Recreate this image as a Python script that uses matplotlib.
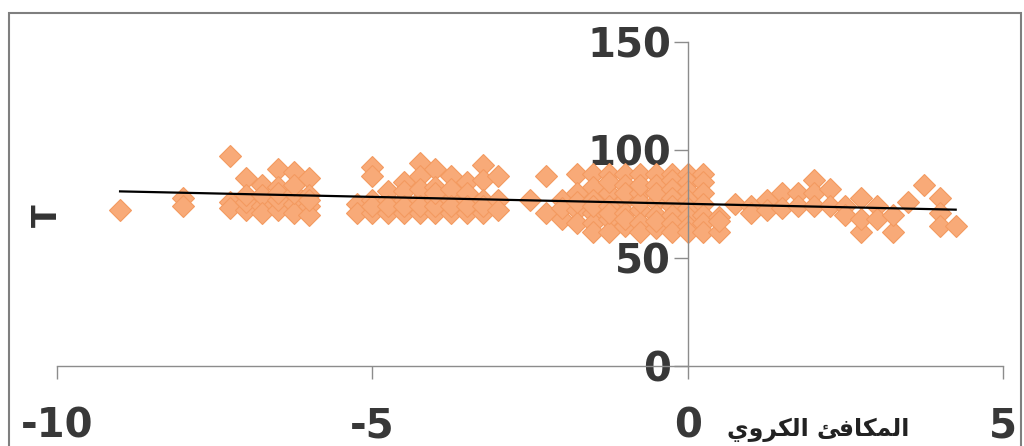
import numpy as np
import matplotlib.pyplot as plt
from matplotlib.patches import Rectangle

# spherical equivalent (dioptres) -> T values, grouped by dioptre step
sph_groups = [
    (-9.0, [72]),
    (-8.0, [78, 74]),
    (-7.25, [97, 76, 73]),
    (-7.0, [87, 72, 76, 79]),
    (-6.75, [84, 74, 79, 71]),
    (-6.5, [91, 83, 72, 77, 80]),
    (-6.25, [90, 75, 71, 80, 84]),
    (-6.0, [87, 74, 70, 79, 77]),
    (-5.25, [75, 71]),
    (-5.0, [92, 88, 77, 71, 74]),
    (-4.75, [77, 71, 81, 74]),
    (-4.5, [85, 77, 71, 81, 74]),
    (-4.25, [94, 88, 77, 71, 82, 74]),
    (-4.0, [91, 83, 77, 71, 74, 80]),
    (-3.75, [88, 77, 71, 82, 74]),
    (-3.5, [85, 77, 71, 80, 74]),
    (-3.25, [93, 86, 77, 71, 74]),
    (-3.0, [88, 77, 72]),
    (-2.5, [77]),
    (-2.25, [88, 71]),
    (-2.0, [77, 68, 73]),
    (-1.75, [89, 72, 66, 80, 76]),
    (-1.5, [89, 83, 77, 71, 66, 62, 74]),
    (-1.25, [89, 80, 74, 68, 62, 85, 71]),
    (-1.0, [89, 84, 77, 71, 65, 80, 68]),
    (-0.75, [89, 80, 72, 66, 62, 76, 84]),
    (-0.5, [89, 84, 76, 70, 64, 80, 67]),
    (-0.25, [89, 86, 82, 78, 74, 70, 66, 62]),
    (0.0, [89, 85, 81, 77, 73, 69, 65, 62]),
    (0.25, [89, 85, 80, 75, 70, 66, 62]),
    (0.5, [69, 62, 67]),
    (0.75, [75]),
    (1.0, [74, 71]),
    (1.25, [77, 72]),
    (1.5, [80, 73]),
    (1.75, [80, 74]),
    (2.0, [86, 80, 74]),
    (2.25, [82, 74]),
    (2.5, [74, 70]),
    (2.75, [78, 62, 68]),
    (3.0, [74, 68]),
    (3.25, [62, 70]),
    (3.5, [76]),
    (3.75, [84]),
    (4.0, [78, 71, 65]),
    (4.25, [65]),
]
x_ticks = [-10, -5, 0, 5]
y_ticks = [0, 50, 100, 150]
x_label = "\uFEF1\uFEED\uFEAE\uFEDC\uFEDF\uFE8D \uFE8A\uFED3\uFE8E\uFEDC\uFEE4\uFEDF\uFE8D"  # المكافئ الكروي (pre-shaped)
y_label = "T"

sph = np.array([x for x, ys in sph_groups for _ in ys])
tval = np.array([y for _, ys in sph_groups for y in ys])

fig = plt.figure(figsize=(10.24, 4.46), dpi=100)
ax = fig.add_axes([57/1024, 80/446, 946/1024, 324/446])

ax.plot(sph, tval, linestyle='none', marker='D', markersize=11.5,
        markerfacecolor='#F8AA78', markeredgecolor='#F39A60', markeredgewidth=0.8, zorder=2)

# linear trend line
slope, icpt = np.polyfit(sph, tval, 1)
xs = np.array([sph.min(), sph.max()])
ax.plot(xs, slope*xs + icpt, color='black', lw=1.6, zorder=3)

ax.set_xlim(-10, 5)
ax.set_ylim(0, 150)
ax.spines['top'].set_visible(False)
ax.spines['right'].set_visible(False)
ax.spines['left'].set_position(('data', 0))
for s in ('left', 'bottom'):
    ax.spines[s].set_color('#8c8c8c')
    ax.spines[s].set_linewidth(1.0)

tick_font = dict(family='DejaVu Sans', weight='bold', size=29, color='#383838')
ax.set_xticks(x_ticks)
ax.set_xticklabels([str(v) for v in x_ticks], **tick_font)
ax.set_yticks(y_ticks)
ax.set_yticklabels([str(v) for v in y_ticks], **tick_font)
ax.tick_params(axis='x', direction='out', length=9, width=1, color='#8c8c8c', pad=20)
ax.tick_params(axis='y', direction='out', length=10, width=1, color='#8c8c8c', pad=2)

fig.text(47/1024, 1 - 216/446, y_label, rotation=90, ha='center', va='center',
         family='DejaVu Sans', weight='bold', size=24, color='#333333')
fig.text(818/1024, 1 - 430/446, x_label, ha='center', va='center',
         family='DejaVu Sans', weight='bold', size=17, color='#222222')

# chart area border
fig.patches.append(Rectangle((9/1024, -0.1), 1012/1024, 1 - 13/446 + 0.1,
                             transform=fig.transFigure, fill=False,
                             edgecolor='#7f7f7f', lw=1.5))

fig.savefig('out.png', dpi=100)
